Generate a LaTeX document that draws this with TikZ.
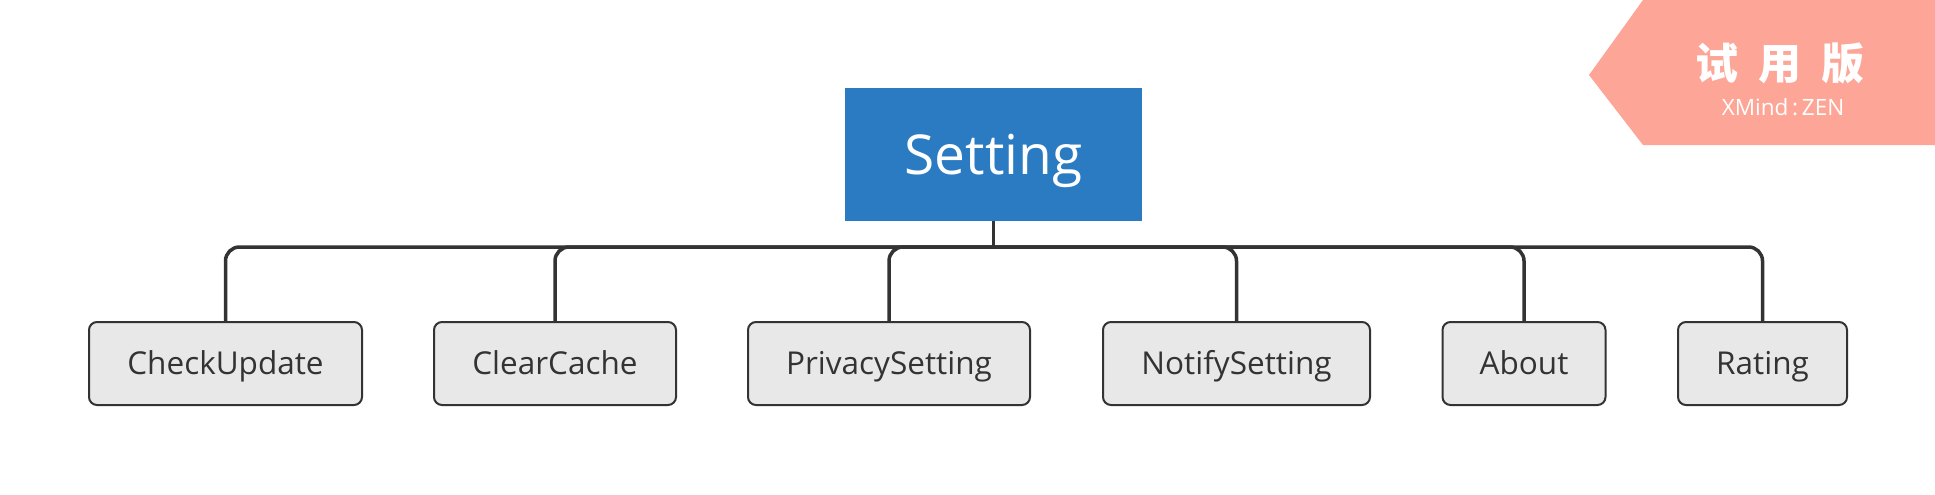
\documentclass[tikz,border=0pt]{standalone}
\usepackage{fontspec}
\setmainfont{Open Sans}
\newfontfamily\cjk{Noto Sans CJK SC}
\definecolor{rootblue}{HTML}{2B7BC2}
\definecolor{childfill}{HTML}{E8E8E8}
\definecolor{linegray}{HTML}{333333}
\definecolor{wmark}{HTML}{FDA596}
\begin{document}
\begin{tikzpicture}[x=1pt,y=-1pt,
  rootbox/.style={fill=rootblue, draw=none, minimum width=297pt, minimum height=133pt, inner sep=0pt, text=white, font=\fontsize{55}{60}\selectfont, text height=39.3pt, text depth=0pt},
  childbox/.style={fill=childfill, draw=linegray, line width=2pt, rounded corners=8pt, minimum height=83pt, inner sep=0pt, text=linegray, font=\fontsize{31.5}{36}\selectfont, text height=22.5pt, text depth=0pt},
  conn/.style={draw=linegray, line width=3.5pt, rounded corners=14pt}
]
\useasboundingbox (0,0) rectangle (1935,495);
\fill[white] (0,0) rectangle (1935,495);
% watermark
\fill[wmark] (1589,75) -- (1643,0) -- (1935,0) -- (1935,145) -- (1643,145) -- cycle;
\node[text=white, font=\cjk\bfseries\fontsize{43}{46}\selectfont, inner sep=0pt] (wm1) at (1780,63) {试\hspace{20pt}用\hspace{20pt}版};
\node[text=white, font=\fontsize{22.5}{26}\selectfont, inner sep=0pt, text height=16pt, text depth=0pt] (wm2) at (1783,107) {XMind\,:\,ZEN};
% root
\node[rootbox] (root) at (993.5,154.5) {Setting};
% children
\node[childbox, minimum width=273pt] (c1) at (225.5,363.5) {CheckUpdate};
\node[childbox, minimum width=242pt] (c2) at (555,363.5) {ClearCache};
\node[childbox, minimum width=282pt] (c3) at (889,363.5) {PrivacySetting};
\node[childbox, minimum width=267pt] (c4) at (1236.5,363.5) {NotifySetting};
\node[childbox, minimum width=163pt] (c5) at (1524,363.5) {About};
\node[childbox, minimum width=169pt] (c6) at (1762.5,363.5) {Rating};
\coordinate (hub) at (993.5,247);
\draw[draw=linegray, line width=3.5pt] (root.south) -- (hub);
\foreach \c in {c1,c2,c3,c4,c5,c6}{
  \draw[conn] (hub) -| (\c.north);
}
\end{tikzpicture}
\end{document}
